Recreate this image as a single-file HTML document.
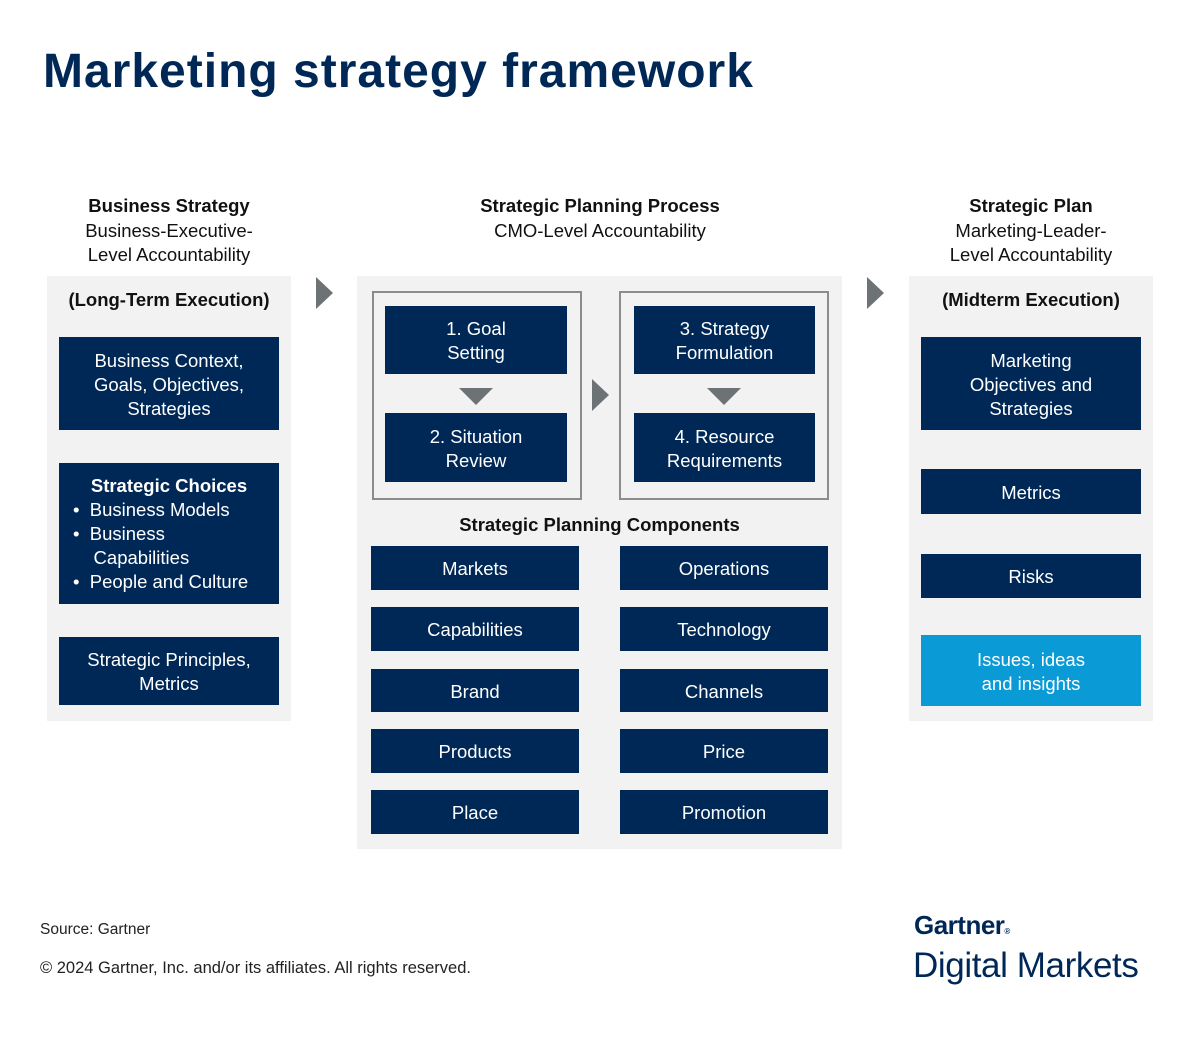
<!DOCTYPE html>
<html><head><meta charset="utf-8"><style>
body{margin:0;width:1200px;height:1050px;background:#fff;position:relative;font-family:"Liberation Sans",sans-serif;overflow:hidden}
.a{position:absolute}
.t{color:#111;text-align:center;font-size:18.5px;line-height:24.5px}
.p{background:#f2f2f2}
.b{position:absolute;background:#002856;color:#fff;display:flex;align-items:center;justify-content:center;text-align:center;font-size:18.5px;line-height:24px;padding-top:2px;box-sizing:border-box}
.o{position:absolute;border:2px solid #8a8d8f;box-sizing:border-box}
.ar{position:absolute;width:0;height:0;border-top:16px solid transparent;border-bottom:16px solid transparent;border-left:17px solid #6d7275}
.dn{position:absolute;width:0;height:0;border-left:17px solid transparent;border-right:17px solid transparent;border-top:17px solid #6d7275}
</style></head><body>
<div class="a" style="left:43px;top:44px;font-size:48px;font-weight:bold;color:#002856;letter-spacing:1px">Marketing strategy framework</div>

<div class="a t" style="left:40px;width:258px;top:194px"><b>Business Strategy</b><br>Business-Executive-<br>Level Accountability</div>
<div class="a t" style="left:400px;width:400px;top:194px"><b>Strategic Planning Process</b><br>CMO-Level Accountability</div>
<div class="a t" style="left:902px;width:258px;top:194px"><b>Strategic Plan</b><br>Marketing-Leader-<br>Level Accountability</div>

<div class="a p" style="left:47px;top:276px;width:244px;height:445px"></div>
<div class="a p" style="left:357px;top:276px;width:485px;height:573px"></div>
<div class="a p" style="left:909px;top:276px;width:244px;height:445px"></div>

<div class="a t" style="left:47px;width:244px;top:288px;font-weight:bold">(Long-Term Execution)</div>
<div class="a t" style="left:909px;width:244px;top:288px;font-weight:bold">(Midterm Execution)</div>

<div class="b" style="left:59px;top:337px;width:220px;height:93px">Business Context,<br>Goals, Objectives,<br>Strategies</div>
<div class="b" style="left:59px;top:463px;width:220px;height:141px;display:block;text-align:left;padding:11px 0 0 0;box-sizing:border-box">
<div style="text-align:center;font-weight:bold">Strategic Choices</div>
<div style="padding-left:14px">•&nbsp;&nbsp;Business Models</div>
<div style="padding-left:14px">•&nbsp;&nbsp;Business<br>&nbsp;&nbsp;&nbsp;&nbsp;Capabilities</div>
<div style="padding-left:14px">•&nbsp;&nbsp;People and Culture</div></div>
<div class="b" style="left:59px;top:637px;width:220px;height:68px">Strategic Principles,<br>Metrics</div>

<div class="ar" style="left:316px;top:277px"></div>
<div class="ar" style="left:867px;top:277px"></div>
<div class="ar" style="left:592px;top:379px"></div>

<div class="o" style="left:372px;top:291px;width:210px;height:209px"></div>
<div class="o" style="left:619px;top:291px;width:210px;height:209px"></div>
<div class="b" style="left:385px;top:306px;width:182px;height:68px">1. Goal<br>Setting</div>
<div class="b" style="left:385px;top:413px;width:182px;height:69px">2. Situation<br>Review</div>
<div class="b" style="left:634px;top:306px;width:181px;height:68px">3. Strategy<br>Formulation</div>
<div class="b" style="left:634px;top:413px;width:181px;height:69px">4. Resource<br>Requirements</div>
<div class="dn" style="left:459px;top:388px"></div>
<div class="dn" style="left:707px;top:388px"></div>

<div class="a t" style="left:357px;width:485px;top:513px;font-weight:bold">Strategic Planning Components</div>
<div class="b" style="left:371px;top:546px;width:208px;height:44px">Markets</div>
<div class="b" style="left:620px;top:546px;width:208px;height:44px">Operations</div>
<div class="b" style="left:371px;top:607px;width:208px;height:44px">Capabilities</div>
<div class="b" style="left:620px;top:607px;width:208px;height:44px">Technology</div>
<div class="b" style="left:371px;top:669px;width:208px;height:43px">Brand</div>
<div class="b" style="left:620px;top:669px;width:208px;height:43px">Channels</div>
<div class="b" style="left:371px;top:729px;width:208px;height:44px">Products</div>
<div class="b" style="left:620px;top:729px;width:208px;height:44px">Price</div>
<div class="b" style="left:371px;top:790px;width:208px;height:44px">Place</div>
<div class="b" style="left:620px;top:790px;width:208px;height:44px">Promotion</div>

<div class="b" style="left:921px;top:337px;width:220px;height:93px">Marketing<br>Objectives and<br>Strategies</div>
<div class="b" style="left:921px;top:469px;width:220px;height:45px">Metrics</div>
<div class="b" style="left:921px;top:554px;width:220px;height:44px">Risks</div>
<div class="b" style="left:921px;top:635px;width:220px;height:71px;background:#0a9ad6">Issues, ideas<br>and insights</div>

<div class="a" style="left:40px;top:921px;font-size:15.5px;color:#222">Source: Gartner</div>
<div class="a" style="left:40px;top:959px;font-size:16.5px;color:#222">© 2024 Gartner, Inc. and/or its affiliates. All rights reserved.</div>
<div class="a" style="left:914px;top:910px;font-size:26px;font-weight:bold;color:#002856;letter-spacing:-0.5px">Gartner<span style="font-size:8px">®</span></div>
<div class="a" style="left:913px;top:946px;font-size:35px;color:#002856;letter-spacing:-0.4px">Digital Markets</div>
</body></html>
